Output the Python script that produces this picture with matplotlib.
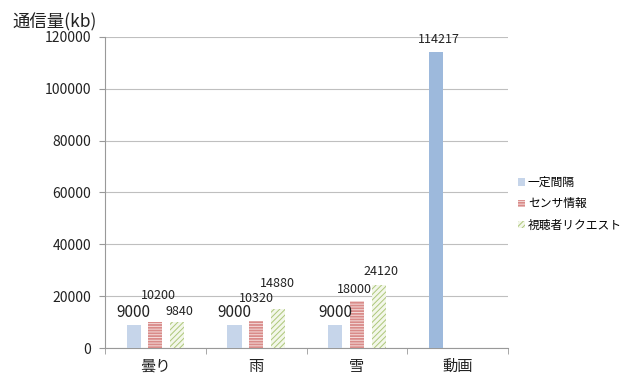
import numpy as np
import matplotlib
matplotlib.use('Agg')
from matplotlib import pyplot as plt

plt.rcParams['font.family'] = ['Noto Sans CJK JP', 'DejaVu Sans']
plt.rcParams['hatch.linewidth'] = 0.7

categories = ['曇り', '雨', '雪', '動画']
series_names = ['一定間隔', 'センサ情報', '視聴者リクエスト']
interval = [9000, 9000, 9000, 114217]
sensor = [10200, 10320, 18000, np.nan]
request = [9840, 14880, 24120, np.nan]
y_ticks = [0, 20000, 40000, 60000, 80000, 100000, 120000]

fig = plt.figure(figsize=(6.25, 3.74), dpi=100)
ax = fig.add_axes([0.168, 0.0695, 0.645, 0.832])

x = np.arange(len(categories))
w = 0.14
step = 0.215

# 一定間隔: last bar (動画) is darker blue
blue_colors = ['#c6d5ea', '#c6d5ea', '#c6d5ea', '#9db9dc']
b1 = ax.bar(x - step, interval, w, color=blue_colors, linewidth=0, zorder=3)
b2 = ax.bar(x, sensor, w, color='#d98b89', edgecolor='#f4dcdb', hatch='------',
            linewidth=0, zorder=3)
b3 = ax.bar(x + step, request, w, color='#f3f7ea', edgecolor='#adc77a',
            hatch='//////', linewidth=0, zorder=3)

# labels (offsets in points)
blue_off = [(0, 3), (0, 3), (0, 3), (2, 4.5)]
red_off = [(2, 14), (0, 12), (-2, 4)]
green_off = [(2, 3.5), (0, 14), (2, 5.5)]
for i, v in enumerate(interval):
    ax.annotate(str(v), (x[i] - step, v), xytext=blue_off[i], textcoords='offset points',
                ha='center', va='bottom', fontsize=11 if i < 3 else 9, color='#222222')
for i, v in enumerate(sensor):
    if np.isnan(v):
        continue
    ax.annotate(str(int(v)), (x[i], v), xytext=red_off[i], textcoords='offset points',
                ha='center', va='bottom', fontsize=9, color='#222222')
for i, v in enumerate(request):
    if np.isnan(v):
        continue
    ax.annotate(str(int(v)), (x[i] + step, v), xytext=green_off[i], textcoords='offset points',
                ha='center', va='bottom', fontsize=9, color='#222222')

ax.set_xlim(-0.5, len(categories) - 0.5)
ax.set_ylim(0, 120000)
ax.set_yticks(y_ticks)
ax.set_yticklabels([str(t) for t in y_ticks], fontsize=10, color='#222222')
ax.set_xticks(x)
ax.set_xticklabels(categories, fontsize=11, color='#222222')
ax.set_xticks(np.arange(len(categories) + 1) - 0.5, minor=True)
ax.tick_params(axis='x', which='major', length=0, pad=7)
ax.tick_params(axis='x', which='minor', length=4, color='#999999')
ax.tick_params(axis='y', length=4, color='#999999', pad=6)

ax.grid(axis='y', color='#bfbfbf', linewidth=0.8, zorder=0)
for s in ['top', 'right']:
    ax.spines[s].set_visible(False)
ax.spines['left'].set_color('#999999')
ax.spines['bottom'].set_color('#999999')

fig.text(0.02, 0.94, '通信量(kb)', fontsize=12.5, color='#222222', ha='left', va='center')

ax.legend([b1[0], b2[0], b3[0]], series_names, loc='center left',
          bbox_to_anchor=(1.005, 0.463), frameon=False, fontsize=8.5,
          handlelength=0.55, handleheight=0.55, handletextpad=0.25, labelspacing=0.7,
          borderaxespad=0.3)

fig.savefig('out.png', dpi=100)
